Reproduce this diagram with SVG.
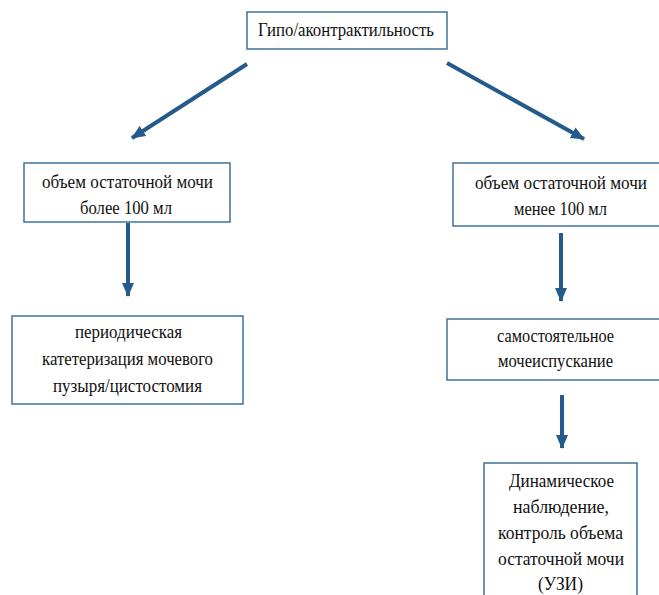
<svg xmlns="http://www.w3.org/2000/svg" width="659" height="595" viewBox="0 0 659 595">
<defs>
<marker id="ah" markerUnits="userSpaceOnUse" markerWidth="14" markerHeight="12" viewBox="0 0 14 12" refX="13" refY="6" orient="auto">
<path d="M0,0 L14,6 L0,12 z" fill="#245A8C"/>
</marker>
</defs>
<style>
.box{fill:#ffffff;stroke:#41719C;stroke-width:1.5}
.t{font-family:"Liberation Serif","Times New Roman",serif;font-size:19px;fill:#111111;text-anchor:middle}
.c{stroke:#245A8C;stroke-width:4;fill:none;marker-end:url(#ah)}
</style>
<rect width="659" height="595" fill="#ffffff"/>
<g id="connectors">
<line class="c" x1="247" y1="64" x2="132" y2="138"/>
<line class="c" x1="447" y1="63" x2="584" y2="139"/>
<line class="c" x1="128" y1="223" x2="128" y2="296"/>
<line class="c" x1="561" y1="233" x2="561" y2="301"/>
<line class="c" x1="562" y1="395" x2="562" y2="448"/>
</g>
<g id="n1">
<rect class="box" x="247" y="12" width="200" height="37"/>
<text class="t" x="346" y="36" textLength="176" lengthAdjust="spacingAndGlyphs">Гипо/аконтрактильность</text>
</g>
<g id="n2">
<rect class="box" x="24" y="163" width="206" height="59"/>
<text class="t" x="127.5" y="188" textLength="171" lengthAdjust="spacingAndGlyphs">объем остаточной мочи</text>
<text class="t" x="126" y="214" textLength="92" lengthAdjust="spacingAndGlyphs">более 100 мл</text>
</g>
<g id="n3">
<rect class="box" x="453" y="163" width="216" height="63"/>
<text class="t" x="561" y="189" textLength="172" lengthAdjust="spacingAndGlyphs">объем остаточной мочи</text>
<text class="t" x="560.5" y="215" textLength="93" lengthAdjust="spacingAndGlyphs">менее 100 мл</text>
</g>
<g id="n4">
<rect class="box" x="12" y="316" width="231" height="88"/>
<text class="t" x="128.5" y="338" textLength="107" lengthAdjust="spacingAndGlyphs">периодическая</text>
<text class="t" x="127.5" y="365" textLength="171" lengthAdjust="spacingAndGlyphs">катетеризация мочевого</text>
<text class="t" x="127.5" y="392" textLength="149" lengthAdjust="spacingAndGlyphs">пузыря/цистостомия</text>
</g>
<g id="n5">
<rect class="box" x="447" y="319" width="217" height="61"/>
<text class="t" x="555.5" y="342" textLength="117" lengthAdjust="spacingAndGlyphs">самостоятельное</text>
<text class="t" x="555.5" y="367" textLength="115" lengthAdjust="spacingAndGlyphs">мочеиспускание</text>
</g>
<g id="n6">
<rect class="box" x="484" y="463" width="153" height="145"/>
<text class="t" x="561.5" y="487" textLength="105" lengthAdjust="spacingAndGlyphs">Динамическое</text>
<text class="t" x="561" y="513" textLength="96" lengthAdjust="spacingAndGlyphs">наблюдение,</text>
<text class="t" x="560.5" y="539" textLength="125" lengthAdjust="spacingAndGlyphs">контроль объема</text>
<text class="t" x="561" y="565" textLength="126" lengthAdjust="spacingAndGlyphs">остаточной мочи</text>
<text class="t" x="560.5" y="590" textLength="45" lengthAdjust="spacingAndGlyphs">(УЗИ)</text>
</g>
</svg>
